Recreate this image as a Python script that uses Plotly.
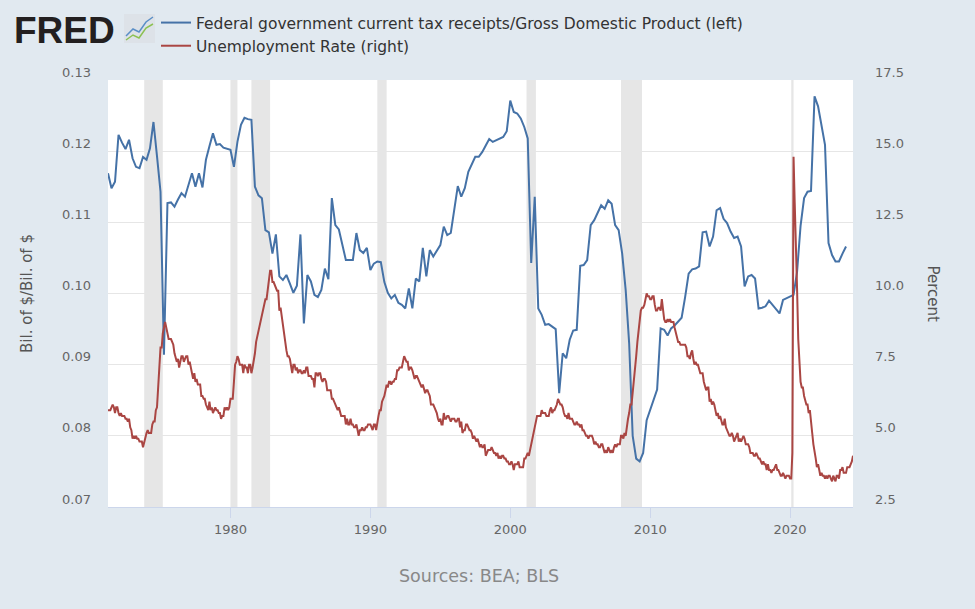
import plotly.graph_objects as go
import pandas as pd

# Federal government current tax receipts / GDP (quarterly, from 1971Q2)
tax_gdp = [
    0.1169, 0.1148, 0.1157,                      # 1971 Q2-Q4
    0.1223, 0.1212, 0.1203, 0.1216,              # 1972
    0.1190, 0.1178, 0.1176, 0.1192,              # 1973
    0.1188, 0.1204, 0.1241, 0.1193,              # 1974
    0.1143, 0.0914, 0.1127, 0.1128,              # 1975
    0.1122, 0.1132, 0.1141, 0.1136,              # 1976
    0.1152, 0.1169, 0.1150, 0.1169,              # 1977
    0.1149, 0.1188, 0.1207, 0.1225,              # 1978
    0.1209, 0.1210, 0.1205, 0.1204,              # 1979
    0.1202, 0.1178, 0.1213, 0.1237,              # 1980
    0.1247, 0.1245, 0.1244, 0.1150,              # 1981
    0.1138, 0.1134, 0.1089, 0.1086,              # 1982
    0.1056, 0.1083, 0.1024, 0.1019,              # 1983
    0.1026, 0.1014, 0.1001, 0.1011,              # 1984
    0.1083, 0.0958, 0.1026, 0.1017,              # 1985
    0.0998, 0.0995, 0.1005, 0.1035,              # 1986
    0.1020, 0.1134, 0.1096, 0.1090,              # 1987
    0.1068, 0.1047, 0.1047, 0.1047,              # 1988
    0.1085, 0.1061, 0.1057, 0.1064,              # 1989
    0.1033, 0.1042, 0.1045, 0.1044,              # 1990
    0.1016, 0.1001, 0.0993, 0.0998,              # 1991
    0.0987, 0.0984, 0.0979, 0.1007,              # 1992
    0.0979, 0.1021, 0.1017, 0.1064,              # 1993
    0.1024, 0.1061, 0.1052, 0.1060,              # 1994
    0.1068, 0.1094, 0.1082, 0.1085,              # 1995
    0.1118, 0.1151, 0.1136, 0.1148,              # 1996
    0.1171, 0.1182, 0.1192, 0.1192,              # 1997
    0.1199, 0.1208, 0.1217, 0.1213,              # 1998
    0.1215, 0.1217, 0.1220, 0.1228,              # 1999
    0.1271, 0.1255, 0.1253, 0.1246,              # 2000
    0.1234, 0.1218, 0.1043, 0.1136,              # 2001
    0.0979, 0.0970, 0.0956, 0.0957,              # 2002
    0.0953, 0.0950, 0.0860, 0.0916,              # 2003
    0.0909, 0.0935, 0.0948, 0.0949,              # 2004
    0.1039, 0.1040, 0.1047, 0.1096,              # 2005
    0.1103, 0.1114, 0.1124, 0.1119,              # 2006
    0.1131, 0.1126, 0.1096, 0.1089,              # 2007
    0.1056, 0.1005, 0.0930, 0.0800,              # 2008
    0.0768, 0.0764, 0.0776, 0.0822,              # 2009
    0.0836, 0.0848, 0.0865, 0.0951,              # 2010
    0.0949, 0.0941, 0.0951, 0.0955,              # 2011
    0.0960, 0.0966, 0.0995, 0.1028,              # 2012
    0.1034, 0.1035, 0.1038, 0.1086,              # 2013
    0.1087, 0.1066, 0.1080, 0.1117,              # 2014
    0.1120, 0.1105, 0.1099, 0.1087,              # 2015
    0.1078, 0.1080, 0.1066, 0.1010,              # 2016
    0.1024, 0.1026, 0.1021, 0.0979,              # 2017
    0.0980, 0.0982, 0.0990, 0.0984,              # 2018
    0.0978, 0.0972, 0.0991, 0.0993,              # 2019
    0.0995, 0.0998, 0.1030, 0.1095,              # 2020
    0.1134, 0.1143, 0.1144, 0.1277,              # 2021
    0.1263, 0.1234, 0.1209, 0.1071,              # 2022
    0.1054, 0.1045, 0.1045, 0.1056,              # 2023
    0.1066,                                      # 2024 Q1
]

# Unemployment rate, percent (monthly, from 1971-04)
unrate = [
    5.9, 5.9, 5.9, 6.0, 6.1, 6.0, 5.8, 6.0, 6.0,                       # 1971 Apr-Dec
    5.8, 5.7, 5.8, 5.7, 5.7, 5.7, 5.6, 5.6, 5.5, 5.6, 5.3, 5.2,        # 1972
    4.9, 5.0, 4.9, 5.0, 4.9, 4.9, 4.8, 4.8, 4.8, 4.6, 4.8, 4.9,        # 1973
    5.1, 5.2, 5.1, 5.1, 5.1, 5.4, 5.5, 5.5, 5.9, 6.0, 6.6, 7.2,        # 1974
    8.1, 8.1, 8.6, 8.8, 9.0, 8.8, 8.6, 8.4, 8.4, 8.4, 8.3, 8.2,        # 1975
    7.9, 7.7, 7.6, 7.7, 7.4, 7.6, 7.8, 7.8, 7.6, 7.7, 7.8, 7.8,        # 1976
    7.5, 7.6, 7.4, 7.2, 7.0, 7.2, 6.9, 7.0, 6.8, 6.8, 6.8, 6.4,        # 1977
    6.4, 6.3, 6.3, 6.1, 6.0, 5.9, 6.2, 5.9, 6.0, 5.8, 5.9, 6.0,        # 1978
    5.9, 5.9, 5.8, 5.8, 5.6, 5.7, 5.7, 6.0, 5.9, 6.0, 5.9, 6.0,        # 1979
    6.3, 6.3, 6.3, 6.9, 7.5, 7.6, 7.8, 7.7, 7.5, 7.5, 7.5, 7.2,        # 1980
    7.5, 7.4, 7.4, 7.2, 7.5, 7.5, 7.2, 7.4, 7.6, 7.9, 8.3, 8.5,        # 1981
    8.6, 8.9, 9.0, 9.3, 9.4, 9.6, 9.8, 9.8, 10.1, 10.4, 10.8, 10.8,    # 1982
    10.4, 10.4, 10.3, 10.2, 10.1, 10.1, 9.4, 9.5, 9.2, 8.8, 8.5, 8.3,  # 1983
    8.0, 7.8, 7.8, 7.7, 7.4, 7.2, 7.5, 7.5, 7.3, 7.4, 7.2, 7.3,        # 1984
    7.3, 7.2, 7.2, 7.3, 7.2, 7.4, 7.4, 7.1, 7.1, 7.1, 7.0, 7.0,        # 1985
    6.7, 7.2, 7.2, 7.1, 7.2, 7.2, 7.0, 6.9, 7.0, 7.0, 6.9, 6.6,        # 1986
    6.6, 6.6, 6.6, 6.3, 6.3, 6.2, 6.1, 6.0, 5.9, 6.0, 5.8, 5.7,        # 1987
    5.7, 5.7, 5.7, 5.4, 5.6, 5.4, 5.4, 5.6, 5.4, 5.4, 5.3, 5.3,        # 1988
    5.4, 5.2, 5.0, 5.2, 5.2, 5.3, 5.2, 5.2, 5.3, 5.3, 5.4, 5.4,        # 1989
    5.4, 5.3, 5.2, 5.4, 5.4, 5.2, 5.5, 5.7, 5.9, 5.9, 6.2, 6.3,        # 1990
    6.4, 6.6, 6.8, 6.7, 6.9, 6.9, 6.8, 6.9, 6.9, 7.0, 7.0, 7.3,        # 1991
    7.3, 7.4, 7.4, 7.4, 7.6, 7.8, 7.7, 7.6, 7.6, 7.3, 7.4, 7.4,        # 1992
    7.3, 7.1, 7.0, 7.1, 7.1, 7.0, 6.9, 6.8, 6.7, 6.8, 6.6, 6.5,        # 1993
    6.6, 6.6, 6.5, 6.4, 6.1, 6.1, 6.1, 6.0, 5.9, 5.8, 5.6, 5.5,        # 1994
    5.6, 5.4, 5.4, 5.8, 5.6, 5.6, 5.7, 5.7, 5.6, 5.5, 5.6, 5.6,        # 1995
    5.6, 5.5, 5.5, 5.6, 5.6, 5.3, 5.5, 5.1, 5.2, 5.2, 5.4, 5.4,        # 1996
    5.3, 5.2, 5.2, 5.1, 4.9, 5.0, 4.9, 4.8, 4.9, 4.7, 4.6, 4.7,        # 1997
    4.6, 4.6, 4.7, 4.3, 4.4, 4.5, 4.5, 4.5, 4.6, 4.5, 4.4, 4.4,        # 1998
    4.3, 4.4, 4.2, 4.3, 4.2, 4.3, 4.3, 4.2, 4.2, 4.1, 4.1, 4.0,        # 1999
    4.0, 4.1, 4.0, 3.8, 4.0, 4.0, 4.0, 4.1, 3.9, 3.9, 3.9, 3.9,        # 2000
    4.2, 4.2, 4.3, 4.4, 4.3, 4.5, 4.6, 4.9, 5.0, 5.3, 5.5, 5.7,        # 2001
    5.7, 5.7, 5.7, 5.9, 5.8, 5.8, 5.8, 5.7, 5.7, 5.7, 5.9, 6.0,        # 2002
    5.8, 5.9, 5.9, 6.0, 6.1, 6.3, 6.2, 6.1, 6.1, 6.0, 5.8, 5.7,        # 2003
    5.7, 5.6, 5.8, 5.6, 5.6, 5.6, 5.5, 5.4, 5.4, 5.5, 5.4, 5.4,        # 2004
    5.3, 5.4, 5.2, 5.2, 5.1, 5.0, 5.0, 4.9, 5.0, 5.0, 5.0, 4.9,        # 2005
    4.7, 4.8, 4.7, 4.7, 4.6, 4.6, 4.7, 4.7, 4.5, 4.4, 4.5, 4.4,        # 2006
    4.6, 4.5, 4.4, 4.5, 4.4, 4.6, 4.7, 4.6, 4.7, 4.7, 4.7, 5.0,        # 2007
    5.0, 4.9, 5.1, 5.0, 5.4, 5.6, 5.8, 6.1, 6.1, 6.5, 6.8, 7.3,        # 2008
    7.8, 8.3, 8.7, 9.0, 9.4, 9.5, 9.5, 9.6, 9.8, 10.0, 9.9, 9.9,       # 2009
    9.8, 9.8, 9.9, 9.9, 9.6, 9.4, 9.4, 9.5, 9.5, 9.4, 9.8, 9.3,        # 2010
    9.1, 9.0, 9.0, 9.1, 9.0, 9.1, 9.0, 9.0, 9.0, 8.8, 8.6, 8.5,        # 2011
    8.3, 8.3, 8.2, 8.2, 8.2, 8.2, 8.2, 8.1, 7.8, 7.8, 7.7, 7.9,        # 2012
    8.0, 7.7, 7.5, 7.6, 7.5, 7.5, 7.3, 7.2, 7.2, 7.2, 6.9, 6.7,        # 2013
    6.6, 6.7, 6.7, 6.2, 6.3, 6.1, 6.2, 6.1, 5.9, 5.7, 5.8, 5.6,        # 2014
    5.7, 5.5, 5.4, 5.4, 5.6, 5.3, 5.2, 5.1, 5.0, 5.0, 5.1, 5.0,        # 2015
    4.8, 4.9, 5.0, 5.1, 4.8, 4.9, 4.8, 4.9, 5.0, 4.9, 4.7, 4.7,        # 2016
    4.7, 4.6, 4.4, 4.4, 4.4, 4.3, 4.3, 4.4, 4.3, 4.2, 4.2, 4.1,        # 2017
    4.0, 4.1, 4.0, 4.0, 3.8, 4.0, 3.8, 3.8, 3.7, 3.8, 3.8, 3.9,        # 2018
    4.0, 3.8, 3.8, 3.7, 3.6, 3.6, 3.7, 3.6, 3.5, 3.6, 3.6, 3.6,        # 2019
    3.5, 3.5, 4.4, 14.8, 13.2, 11.0, 10.2, 8.4, 7.8, 6.9, 6.7, 6.7,    # 2020
    6.4, 6.2, 6.1, 6.1, 5.8, 5.9, 5.4, 5.1, 4.7, 4.5, 4.2, 3.9,        # 2021
    4.0, 3.8, 3.6, 3.7, 3.6, 3.6, 3.5, 3.6, 3.5, 3.6, 3.6, 3.5,        # 2022
    3.4, 3.6, 3.5, 3.4, 3.6, 3.6, 3.5, 3.8, 3.8, 3.9, 3.7, 3.7,        # 2023
    3.7, 3.9, 3.9, 3.9, 4.0, 4.1, 4.3,                                 # 2024 Jan-Jul
]

recessions = [
    ("1973-11-01", "1975-03-01"),
    ("1980-01-01", "1980-07-01"),
    ("1981-07-01", "1982-11-01"),
    ("1990-07-01", "1991-03-01"),
    ("2001-03-01", "2001-11-01"),
    ("2007-12-01", "2009-06-01"),
    ("2020-02-01", "2020-04-01"),
]

left_ticks = [0.07, 0.08, 0.09, 0.10, 0.11, 0.12, 0.13]
right_ticks = [2.5, 5.0, 7.5, 10.0, 12.5, 15.0, 17.5]
x_tick_years = ["1980", "1990", "2000", "2010", "2020"]

tax_dates = pd.date_range("1971-04-01", periods=len(tax_gdp), freq="QS")
unrate_dates = pd.date_range("1971-04-01", periods=len(unrate), freq="MS")

BLUE = "#4572a7"
RED = "#aa4643"
FONT = "DejaVu Sans, Verdana, sans-serif"

fig = go.Figure()
fig.add_trace(go.Scatter(
    x=tax_dates, y=tax_gdp, mode="lines",
    name="Federal government current tax receipts/Gross Domestic Product (left)",
    line=dict(color=BLUE, width=2), yaxis="y",
))
fig.add_trace(go.Scatter(
    x=unrate_dates, y=unrate, mode="lines",
    name="Unemployment Rate (right)",
    line=dict(color=RED, width=2), yaxis="y2",
))

shapes = []
for start, end in recessions:
    shapes.append(dict(type="rect", xref="x", yref="paper", x0=start, x1=end,
                       y0=0, y1=1, fillcolor="#e6e6e6", line=dict(width=0),
                       layer="below"))

# FRED logo icon (decorative)
def px_x(px):
    return (px - 108) / 745.0

def px_y(py):
    return (507 - py) / 427.0

shapes.append(dict(type="rect", xref="paper", yref="paper",
                   x0=px_x(124), x1=px_x(155), y0=px_y(43), y1=px_y(14),
                   fillcolor="#dde2e8", line=dict(width=0), layer="above"))
shapes.append(dict(type="path", xref="paper", yref="paper",
                   path="M {} {} L {} {} L {} {} L {} {} L {} {}".format(
                       px_x(126), px_y(36), px_x(133), px_y(29), px_x(139), px_y(32),
                       px_x(146), px_y(22), px_x(153), px_y(17)),
                   line=dict(color="#5b8fc7", width=1.5)))
shapes.append(dict(type="path", xref="paper", yref="paper",
                   path="M {} {} L {} {} L {} {} L {} {} L {} {}".format(
                       px_x(126), px_y(40), px_x(133), px_y(35), px_x(139), px_y(38),
                       px_x(146), px_y(28), px_x(153), px_y(24)),
                   line=dict(color="#8cc152", width=1.5)))

annotations = [
    dict(text="<b>FRED</b>", xref="paper", yref="paper", x=px_x(12), y=px_y(30),
         xanchor="left", yanchor="middle", showarrow=False,
         font=dict(family="Liberation Sans, Arial", size=37, color="#231f20")),
    dict(text="Percent", xref="paper", yref="paper", x=px_x(933), y=0.5,
         xanchor="center", yanchor="middle", textangle=90, showarrow=False,
         font=dict(family=FONT, size=15, color="#555555")),
    dict(text="Sources: BEA; BLS", xref="paper", yref="paper", x=px_x(479), y=px_y(576),
         xanchor="center", yanchor="middle", showarrow=False,
         font=dict(family=FONT, size=17.5, color="#888888")),
]

fig.update_layout(
    width=975, height=609,
    margin=dict(l=108, r=122, t=80, b=102, autoexpand=False),
    paper_bgcolor="#e1e9f0",
    plot_bgcolor="#ffffff",
    font=dict(family=FONT, size=13, color="#666666"),
    showlegend=True,
    legend=dict(x=px_x(156), y=px_y(6), xanchor="left", yanchor="top",
                bgcolor="rgba(0,0,0,0)", font=dict(size=15.5, color="#333333"),
                tracegroupgap=0),
    xaxis=dict(
        type="date",
        range=[tax_dates[0], unrate_dates[-1]],
        tickvals=[y + "-01-01" for y in x_tick_years],
        ticktext=x_tick_years,
        ticks="outside", ticklen=10, tickcolor="#ccd6eb", tickwidth=1,
        showline=True, linecolor="#ccd6eb", linewidth=1,
        showgrid=False, zeroline=False, automargin=False,
        tickfont=dict(size=13, color="#666666"),
    ),
    yaxis=dict(
        range=[0.07, 0.13], tickvals=left_ticks, tickformat=".2f",
        showgrid=True, gridcolor="#e6e6e6", gridwidth=1, zeroline=False,
        showline=False, ticks="", ticklabelstandoff=16, ticklabelshift=-8,
        automargin=False,
        tickfont=dict(size=13, color="#666666"),
        title=dict(text="Bil. of $/Bil. of $", standoff=25,
                   font=dict(size=15, color="#555555")),
    ),
    yaxis2=dict(
        range=[2.5, 17.5], tickvals=right_ticks, tickformat=".1f",
        overlaying="y", side="right", showgrid=False, zeroline=False,
        showline=False, ticks="", ticklabelstandoff=21, ticklabelshift=-8,
        automargin=False,
        tickfont=dict(size=13, color="#666666"),
    ),
    shapes=shapes,
    annotations=annotations,
)

fig.write_html("out.html",
               config={"displayModeBar": False},
               post_script="document.body.style.margin='0';"
                           "document.body.style.background='#e1e9f0';")
